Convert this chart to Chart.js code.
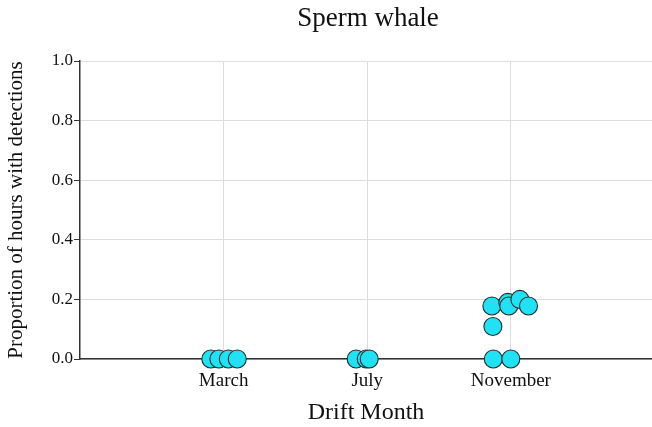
<!DOCTYPE html>
<html>
<head>
<meta charset="utf-8">
<script src="https://cdn.jsdelivr.net/npm/chart.js@4"></script>
<style>
html,body{margin:0;padding:0;background:#fff;}
#wrap{width:652px;height:427px;position:relative;}
</style>
</head>
<body>
<div id="wrap"><canvas id="c" width="652" height="427"></canvas></div>
<script>
const chartTitle = 'Sperm whale';
const categories = ['March', 'July', 'November'];
const marchValues = [0, 0, 0, 0];
const julyValues = [0, 0, 0];
const novemberValues = [0.178, 0.109, 0, 0, 0.19, 0.178, 0.20, 0.178];
// horizontal jitter within each category (category units)
const marchJitter = [-0.089, -0.033, 0.033, 0.095];
const julyJitter = [-0.077, -0.007, 0.014];
const novemberJitter = [-0.132, -0.125, -0.122, 0.0, -0.021, -0.014, 0.063, 0.123];
const yTicks = [0, 0.2, 0.4, 0.6, 0.8, 1.0];

const groups = [
  [marchValues, marchJitter],
  [julyValues, julyJitter],
  [novemberValues, novemberJitter]
];
const points = [];
groups.forEach((g, i) => {
  g[0].forEach((v, j) => points.push({x: i + 1 + g[1][j], y: v}));
});

const serif = "'Liberation Serif', 'Times New Roman', serif";

const titlePlugin = {
  id: 'plotTitle',
  afterDraw(chart) {
    const ctx = chart.ctx;
    const a = chart.chartArea;
    ctx.save();
    ctx.font = "27px " + serif;
    ctx.fillStyle = '#111';
    ctx.textAlign = 'center';
    ctx.textBaseline = 'middle';
    ctx.fillText(chartTitle, (a.left + a.right) / 2 + 2, 19);
    ctx.restore();
  }
};

new Chart(document.getElementById('c'), {
  type: 'scatter',
  data: {
    datasets: [{
      data: points,
      clip: false,
      pointRadius: 9,
      pointHoverRadius: 9,
      pointBackgroundColor: '#1fe3f5',
      pointBorderColor: '#2a2a2a',
      pointBorderWidth: 1.1
    }]
  },
  plugins: [titlePlugin],
  options: {
    responsive: false,
    animation: false,
    devicePixelRatio: 1,
    layout: {autoPadding: false, padding: {left: 0, right: 0, top: 61, bottom: 0}},
    plugins: {
      legend: {display: false},
      tooltip: {enabled: false},
      title: {display: false}
    },
    scales: {
      x: {
        type: 'linear',
        min: 0,
        max: 3.983,
        afterBuildTicks: (s) => { s.ticks = categories.map((c, i) => ({value: i + 1})); },
        afterFit: (s) => { s.height = 68; s.paddingLeft = 0; s.paddingRight = 0; },
        ticks: {
          callback: (v) => categories[Math.round(v) - 1],
          color: '#111',
          font: {family: serif, size: 19},
          padding: 7,
          autoSkip: false,
          maxRotation: 0
        },
        grid: {color: '#dddddd', lineWidth: 1, drawTicks: true, tickLength: 4, tickColor: 'rgba(0,0,0,0)'},
        border: {color: '#333333', width: 1.5},
        title: {
          display: true,
          text: 'Drift Month',
          color: '#111',
          font: {family: serif, size: 24},
          padding: {top: 4, bottom: 0}
        }
      },
      y: {
        min: 0,
        max: 1,
        afterBuildTicks: (s) => { s.ticks = yTicks.map(v => ({value: v})); },
        afterFit: (s) => { s.width = 80; s.paddingTop = 0; s.paddingBottom = 0; },
        ticks: {
          callback: (v) => Number(v).toFixed(1),
          color: '#111',
          font: {family: serif, size: 17},
          padding: 1
        },
        grid: {color: '#dddddd', lineWidth: 1, tickLength: 6, tickColor: '#333333'},
        border: {color: '#333333', width: 1.5},
        title: {
          display: true,
          text: 'Proportion of hours with detections',
          color: '#111',
          font: {family: serif, size: 21},
          padding: {top: 4, bottom: 4}
        }
      }
    }
  }
});
</script>
</body>
</html>
